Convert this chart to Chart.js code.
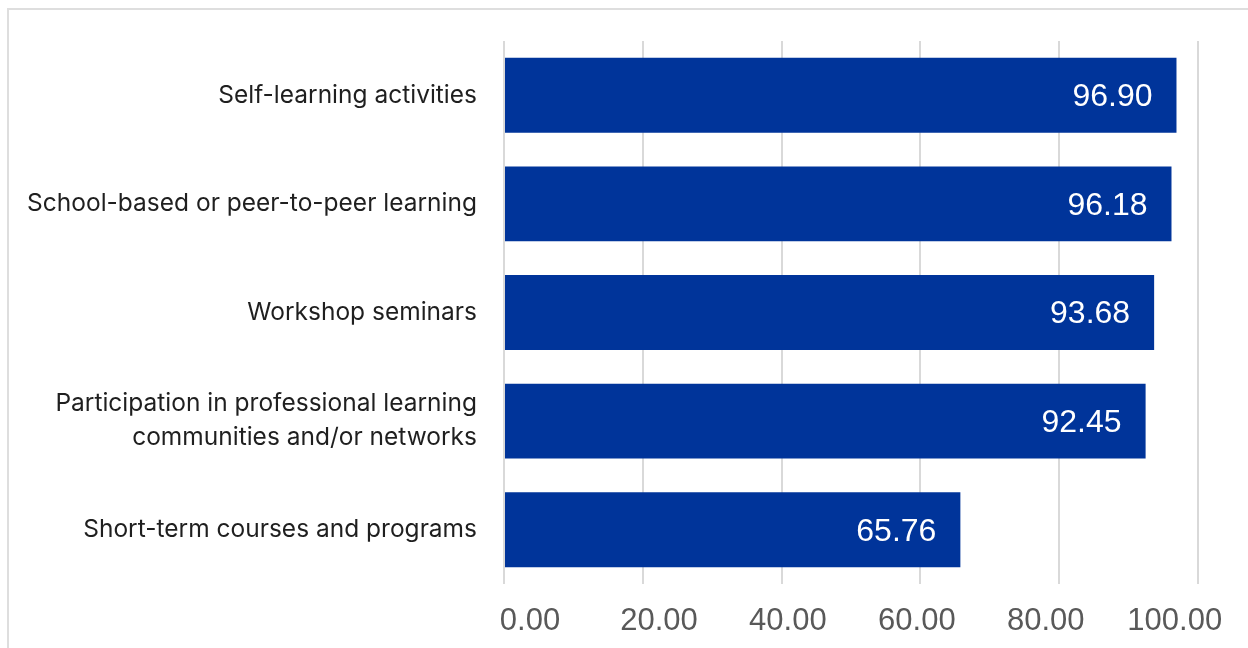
<!DOCTYPE html>
<html>
<head>
<meta charset="utf-8">
<script src="https://cdn.jsdelivr.net/npm/chart.js@4/dist/chart.umd.min.js"></script>
<style>
  html, body { margin: 0; padding: 0; background: #fff; }
  #wrap { position: relative; width: 1248px; height: 648px; overflow: hidden; }
  #frame { position: absolute; left: 7px; top: 8px; width: 1400px; height: 800px; border: 2px solid #dedede; }
  #statChart { position: absolute; left: 0; top: 0; }
</style>
</head>
<body>
<div id="wrap">
  <div id="frame"></div>
  <canvas id="statChart" width="1248" height="648"></canvas>
</div>
<script>
'use strict';

const categories = [
  'Self-learning activities',
  'School-based or peer-to-peer learning',
  'Workshop seminars',
  ['Participation in professional learning', 'communities and/or networks'],
  'Short-term courses and programs',
];
const values = [96.90, 96.18, 93.68, 92.45, 65.76];
const xTicks = [0, 20, 40, 60, 80, 100];

const ctx = document.getElementById('statChart').getContext('2d');

// white figures sitting inside the right end of each bar
const valueLabels = {
  id: 'valueLabels',
  afterDatasetsDraw(chart) {
    const c = chart.ctx;
    const meta = chart.getDatasetMeta(0);
    c.save();
    c.fillStyle = '#ffffff';
    c.font = '32px "Liberation Sans", Arial, sans-serif';
    c.textAlign = 'right';
    c.textBaseline = 'middle';
    meta.data.forEach((bar, i) => {
      c.fillText(values[i].toFixed(2), bar.x - 24, bar.y + 2);
    });
    c.restore();
  },
};

// x tick labels, packed a little tighter than the gridlines
const xTickLabels = {
  id: 'xTickLabels',
  afterDraw(chart) {
    const c = chart.ctx;
    const scale = chart.scales.x;
    c.save();
    c.fillStyle = '#595959';
    c.font = '31px "Liberation Sans", Arial, sans-serif';
    c.textAlign = 'center';
    c.textBaseline = 'middle';
    xTicks.forEach((v) => {
      const px = scale.left + 26 + (scale.getPixelForValue(v) - scale.left) * 0.929;
      c.fillText(v.toFixed(2), px, 621);
    });
    c.restore();
  },
};

const myChart = new Chart(ctx, {
  type: 'bar',
  data: {
    labels: categories,
    datasets: [
      {
        data: values,
        backgroundColor: '#00349a',
        borderWidth: 0,
        barPercentage: 0.69,
        categoryPercentage: 1,
      },
    ],
  },
  options: {
    indexAxis: 'y',
    responsive: false,
    animation: false,
    layout: {
      padding: { top: 41, right: 50, left: 0, bottom: 0 },
    },
    scales: {
      x: {
        min: 0,
        max: 100,
        afterBuildTicks: (scale) => {
          scale.ticks = xTicks.map((v) => ({ value: v }));
        },
        afterFit: (scale) => {
          scale.height = 64;
          scale.paddingLeft = 0;
          scale.paddingRight = 0;
        },
        ticks: {
          display: false,
        },
        grid: {
          color: '#d9d9d9',
          lineWidth: 2,
          drawTicks: false,
        },
        border: { display: false },
      },
      y: {
        afterFit: (scale) => {
          scale.width = 504;
          scale.paddingTop = 0;
          scale.paddingBottom = 0;
        },
        ticks: {
          color: '#1f1f1f',
          font: { family: 'Inter, "Noto Sans", sans-serif', size: 24.5, lineHeight: 1.39 },
          padding: 27,
        },
        grid: { display: false, drawTicks: false },
        border: { display: false },
      },
    },
    plugins: {
      legend: { display: false },
      tooltip: { enabled: false },
    },
  },
  plugins: [valueLabels, xTickLabels],
});
</script>
</body>
</html>
